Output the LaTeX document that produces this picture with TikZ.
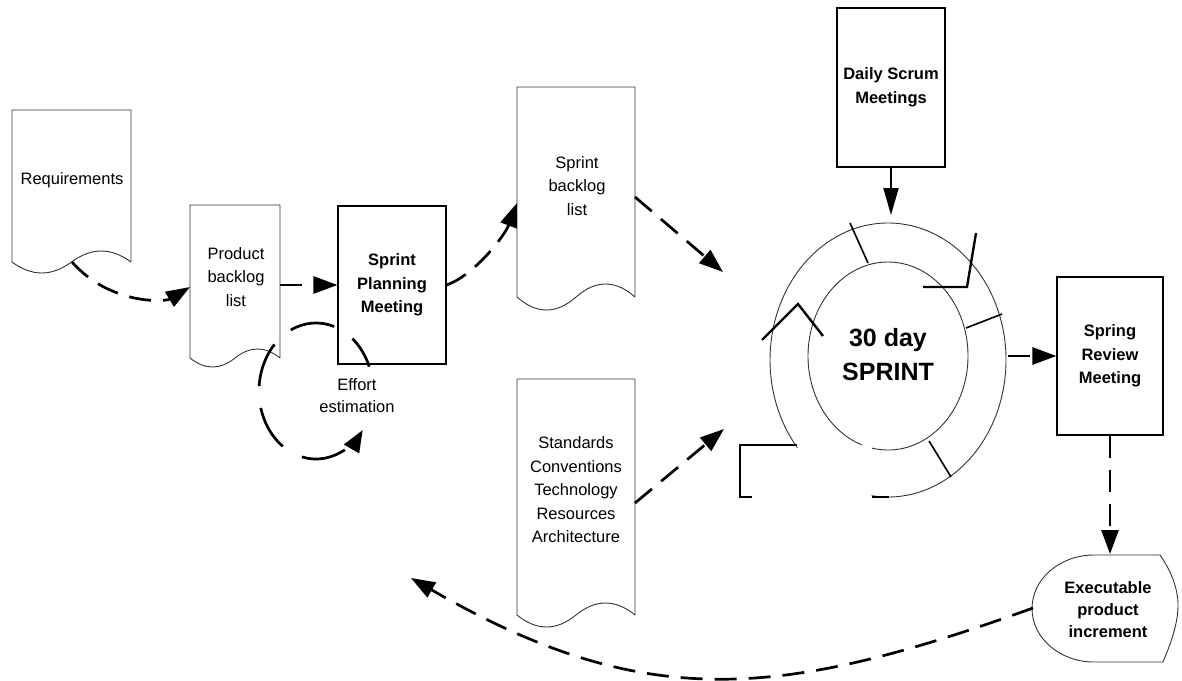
\documentclass[tikz,border=0pt]{standalone}
\usepackage{fontspec}
\setmainfont{Liberation Sans}
\usetikzlibrary{arrows.meta,calc}

% document symbol: left x, top y, right x, bottom y, wave amplitude
\newcommand\docoutline[5]{%
  \pgfmathsetmacro\docW{#3-#1}%
  \pgfmathsetmacro\docMid{#1+\docW/2}%
  \pgfmathsetmacro\docRa{#3-\docW/6}%
  \pgfmathsetmacro\docRb{#3-\docW/3}%
  \pgfmathsetmacro\docLa{#1+\docW/3}%
  \pgfmathsetmacro\docLb{#1+\docW/6}%
  \pgfmathsetmacro\docUp{#4-4*#5/3}%
  \pgfmathsetmacro\docDn{#4+4*#5/3}%
  \draw[docline] (#1,#4) -- (#1,#2) -- (#3,#2) -- (#3,#4)
    .. controls (\docRa,\docUp) and (\docRb,\docUp) .. (\docMid,#4)
    .. controls (\docLa,\docDn) and (\docLb,\docDn) .. (#1,#4) -- cycle;
}

\tikzset{
  docline/.style={line width=0.9pt, draw=black!80, line join=round},
  txt/.style={align=center, inner sep=0pt, font=\fontsize{16.5}{23.5}\selectfont},
  boldtxt/.style={align=center, inner sep=0pt, font=\bfseries\fontsize{16.5}{23}\selectfont},
  boxnode/.style={draw, line width=1.1pt, minimum width=108pt, minimum height=158pt,
    inner sep=0pt, align=center, font=\bfseries\fontsize{16.5}{23.5}\selectfont},
  dashflow/.style={line width=2.7pt, dash pattern=on 22pt off 12pt,
    -{Triangle[length=24pt,width=17pt]}},
  loopflow/.style={line width=2.7pt, dash pattern=on 45pt off 22pt, dash phase=12pt,
    -{Triangle[length=22pt,width=17pt]}},
  solidflow/.style={line width=2pt, -{Triangle[length=27pt,width=15pt]}},
  ring/.style={line width=0.9pt, draw=black!80},
  spoke/.style={line width=1.6pt},
  chevron/.style={line width=2.4pt},
}

\begin{document}
\begin{tikzpicture}[x=1pt, y=-1pt]
\fill[white] (0,0) rectangle (1182,680);
\useasboundingbox (0,0) rectangle (1182,680);

% documents
\docoutline{12}{110}{131}{262}{11}
\docoutline{190}{205}{280}{358}{9}
\docoutline{517}{87}{635}{297}{13}
\docoutline{517}{379}{635}{615}{12}

\node[txt] (req) at (72,180) {Requirements};
\node[txt] (pbl) at (236,277) {Product\\backlog\\list};
\node[txt] (sbl) at (577,186) {Sprint\\backlog\\list};
\node[txt] (std) at (576,490) {Standards\\Conventions\\Technology\\Resources\\Architecture};

% process boxes
\node[boxnode] (spm) at (392,285) {Sprint\\Planning\\Meeting};
\node[boxnode, minimum height=159pt] (dsm) at (891,87.5) {Daily Scrum\\Meetings};
\node[boxnode, minimum width=106pt] (srm) at (1110,356) {Spring\\Review\\Meeting};

% product increment (display symbol)
\draw[docline] (1094,555) -- (1160,555)
  .. controls (1172,572) and (1178,590) .. (1178,605)
  .. controls (1178,625) and (1170,645) .. (1163,662) -- (1094,662)
  arc[start angle=-270, end angle=-90, x radius=62, y radius=53.5];
\node[boldtxt, font=\bfseries\fontsize{16.5}{22}\selectfont] (epi) at (1108,610) {Executable\\product\\increment};

% sprint cycle
\coordinate (ringc) at (888,360);
\coordinate (ringi) at (888,356);
\draw[ring] ($(ringc)+(-262:118 and 137)$)
  arc[start angle=-262, end angle=-579.8, x radius=118, y radius=137];
\draw[ring] ($(ringi)+(-258.5:80 and 94)$)
  arc[start angle=-258.5, end angle=-611, x radius=80, y radius=94];
\draw[spoke] (850,223) -- (868,263);
\draw[spoke] (966,328) -- (1002,314);
\draw[spoke] (929,441) -- (951,477);
\draw[chevron] (923,287) -- (967,287) -- (976,233);
\draw[chevron] (762,340) -- (798,304) -- (823,336);
\draw[line width=1.6pt] (797,445) -- (740,445) -- (740,497) -- (752,497);
\draw[line width=2.2pt] (872,497) -- (889,497);
\node[align=center, inner sep=0pt, font=\bfseries\fontsize{25}{34}\selectfont] (sprint) at (888,355) {30 day\\SPRINT};

% effort estimation loop
\node[txt, font=\fontsize{16.5}{22}\selectfont] (eff) at (357,396) {Effort\\estimation};
\coordinate (effc) at (316,391);
\draw[loopflow] ($(effc)+(-21:57 and 68)$)
  arc[start angle=-21, end angle=-325, x radius=57, y radius=68];

% connector end points on the symbols
\coordinate (req-out) at (72,262);
\coordinate (pbl-in) at (190,287);
\coordinate (pbl-out) at (280,285);
\coordinate (sbl-in) at (517,203);
\coordinate (sbl-out) at (635,197);
\coordinate (ring-nw) at (723,272);
\coordinate (std-out) at (635,503);
\coordinate (ring-sw) at (724,429);
\coordinate (ring-top) at (891,215);
\coordinate (ring-e) at (1008,356);
\coordinate (epi-top) at (1110,554);
\coordinate (epi-w) at (1033,608);
\coordinate (back-end) at (411,578);

% flows
\draw[dashflow] (req-out) .. controls (110,305) and (165,302) .. (pbl-in);
\draw[dashflow] (pbl-out) -- (spm.west);
\draw[dashflow] (spm.east) .. controls (475,275) and (505,235) .. (sbl-in);
\draw[dashflow] (sbl-out) -- (ring-nw);
\draw[dashflow] (std-out) -- (ring-sw);
\draw[solidflow] (dsm.south) -- (ring-top);
\draw[dashflow] (ring-e) -- (srm.west);
\draw[dashflow] (srm.south) -- (epi-top);
\draw[dashflow] (epi-w) .. controls (780,699) and (645,713) .. (back-end);
\end{tikzpicture}
\end{document}
